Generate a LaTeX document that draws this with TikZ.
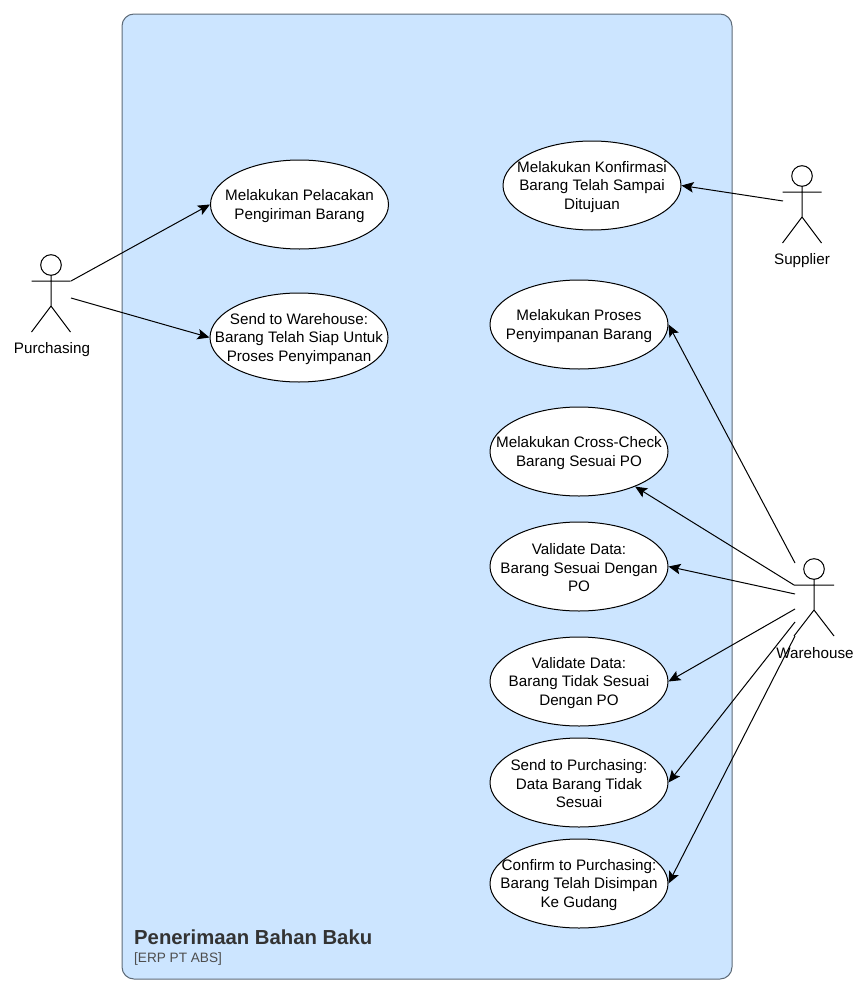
\documentclass[tikz,border=0pt]{standalone}
\usepackage{fontspec}
\setmainfont{Liberation Sans}
\usetikzlibrary{shapes.geometric,arrows.meta}
\definecolor{boxfill}{HTML}{CCE5FF}
\definecolor{boxline}{HTML}{5E6B78}
\definecolor{titlecol}{HTML}{333333}
\definecolor{subcol}{HTML}{4D4D4D}
\tikzset{
  x=1pt,y=-1pt,
  casetext/.style={inner sep=0pt,yshift=-1.5pt,align=center,font=\fontsize{15.2}{18.5}\selectfont,text=black},
  usecase/.style={draw=black,fill=white,ellipse,line width=1pt,minimum width=178pt,minimum height=89pt,inner sep=0pt},
  flow/.style={draw=black,line width=1pt,-{Stealth[length=12pt,width=10.5pt,inset=2.5pt]}},
  stick/.style={draw=black,line width=1pt},
  actorname/.style={inner sep=0pt,font=\fontsize{15.2}{18}\selectfont,text=black},
}
\newcommand{\stickman}[3]{% x, y of head centre, half arm span
  \draw[stick] (#1,#2) circle[radius=10.3pt];
  \draw[stick] (#1,#2+10) -- (#1,#2+41) (#1-#3,#2+16) -- (#1+#3,#2+16)
     (#1-#3,#2+67) -- (#1,#2+41) -- (#1+#3,#2+67);
}
\begin{document}
\begin{tikzpicture}
\useasboundingbox (0,0) rectangle (866,993);
\draw[draw=boxline,fill=boxfill,line width=1pt,rounded corners=12pt] (122,14) rectangle (732,979);
\node[anchor=base west,inner sep=0pt,text=titlecol,font=\fontsize{20.3}{24}\selectfont\bfseries] (title) at (134,944) {Penerimaan Bahan Baku};
\node[anchor=base west,inner sep=0pt,text=subcol,font=\fontsize{13.6}{16}\selectfont] (sub) at (134,962) {[ERP PT ABS]};

\node[usecase,label={[casetext]center:{Melakukan Pelacakan\\Pengiriman Barang}}] (e1) at (299.5,204.5) {};
\node[usecase,label={[casetext]center:{Send to Warehouse:\\Barang Telah Siap Untuk\\Proses Penyimpanan}}] (e2) at (299,337.5) {};
\node[usecase,label={[casetext]center:{Melakukan Konfirmasi\\Barang Telah Sampai\\Ditujuan}}] (e3) at (592,185.5) {};
\node[usecase,label={[casetext]center:{Melakukan Proses\\Penyimpanan Barang}}] (e4) at (579,324.5) {};
\node[usecase,label={[casetext]center:{Melakukan Cross-Check\\Barang Sesuai PO}}] (e5) at (579,451.5) {};
\node[usecase,label={[casetext]center:{Validate Data:\\Barang Sesuai Dengan\\PO}}] (e6) at (579,566.5) {};
\node[usecase,label={[casetext]center:{Validate Data:\\Barang Tidak Sesuai\\Dengan PO}}] (e7) at (579,681.5) {};
\node[usecase,label={[casetext]center:{Send to Purchasing:\\Data Barang Tidak\\Sesuai}}] (e8) at (579,782.5) {};
\node[usecase,label={[casetext]center:{Confirm to Purchasing:\\Barang Telah Disimpan\\Ke Gudang}}] (e9) at (579,883.5) {};

\stickman{51}{265}{19.5}
\stickman{802}{176}{19.5}
\stickman{814}{569}{20}

\node[actorname] (purchasing) at (52,350) {Purchasing};
\node[actorname] (supplier) at (802,261) {Supplier};

\coordinate (p1) at (71,281);
\coordinate (p2) at (71,298);
\coordinate (s1) at (783,201);
\coordinate (w1) at (795,563);
\coordinate (w2) at (794,585);
\coordinate (w3) at (795,594);
\coordinate (w4) at (795,609);
\coordinate (w5) at (795,622);
\coordinate (w6) at (795,636);

\draw[flow] (p1) -- (e1.west);
\draw[flow] (p2) -- (e2.west);
\draw[flow] (s1) -- (e3.east);
\draw[flow] (w1) -- (e4.east);
\draw[flow] (w2) -- (e5.-32);
\draw[flow] (w3) -- (e6.east);
\draw[flow] (w4) -- (e7.east);
\draw[flow] (w5) -- (e8.east);
\draw[flow] (w6) -- (e9.east);

\node[actorname] (warehouse) at (815,653) {Warehouse};
\end{tikzpicture}
\end{document}
